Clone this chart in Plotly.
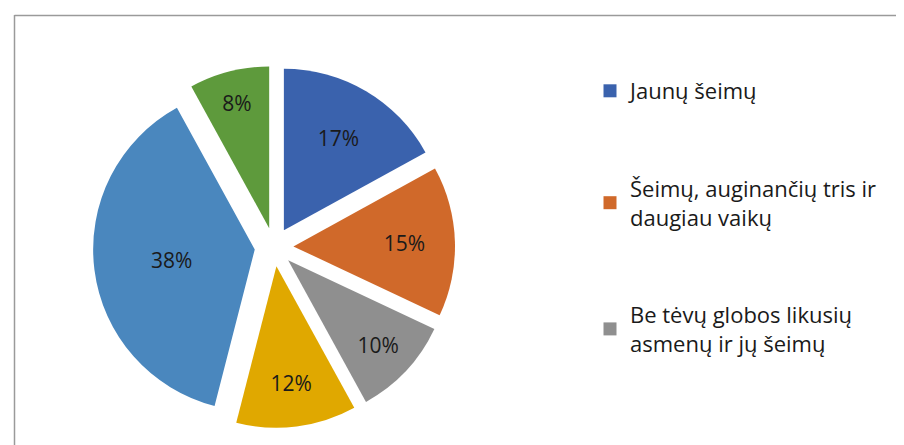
import plotly.graph_objects as go

# Data
shares = [17, 15, 10, 12, 38, 8]
slice_colors = ["#3A62AD", "#D0692A", "#8F8F8F", "#E0A800", "#4A87BE", "#5E9A3C"]
legend_labels = ["Jaunų šeimų", "Šeimų, auginančių tris ir<br>daugiau vaikų", "Be tėvų globos likusių<br>asmenų ir jų šeimų"]
legend_colors = slice_colors[:3]

W, H = 904, 445
fig = go.Figure()

fig.add_trace(go.Pie(
    values=shares,
    sort=False,
    direction="clockwise",
    rotation=0,
    marker=dict(colors=slice_colors, line=dict(color="white", width=0)),
    pull=[0.12] * len(shares),
    texttemplate="%{value}%",
    textposition="inside",
    insidetextorientation="horizontal",
    textfont=dict(family="Open Sans", size=21, color="#1a1a1a"),
    showlegend=False,
    domain=dict(x=[84 / W, 448 / W], y=[1 - 420 / H, 1 - 58 / H]),
    hoverinfo="percent",
))

for lab, col in zip(legend_labels, legend_colors):
    fig.add_trace(go.Scatter(
        x=[None], y=[None], mode="markers", name=lab,
        marker=dict(symbol="square", size=13, color=col),
        legendgroup=lab,
    ))

fig.update_layout(
    width=W, height=H,
    margin=dict(l=0, r=0, t=0, b=0),
    paper_bgcolor="white", plot_bgcolor="white",
    xaxis=dict(visible=False), yaxis=dict(visible=False),
    legend=dict(
        x=582 / W, y=1 - 62 / H, xanchor="left", yanchor="top",
        font=dict(family="Open Sans", size=22, color="#1a1a1a"),
        traceorder="grouped", tracegroupgap=66,
        itemwidth=30, bgcolor="rgba(0,0,0,0)",
    ),
    shapes=[
        dict(type="line", xref="paper", yref="paper", x0=6.5 / W, x1=6.5 / W, y0=0, y1=1 - 7 / H,
             line=dict(color="#9a9a9a", width=1.5)),
        dict(type="line", xref="paper", yref="paper", x0=6.5 / W, x1=1, y0=1 - 7.5 / H, y1=1 - 7.5 / H,
             line=dict(color="#9a9a9a", width=1.5)),
    ],
)

fig.write_html("out.html")
